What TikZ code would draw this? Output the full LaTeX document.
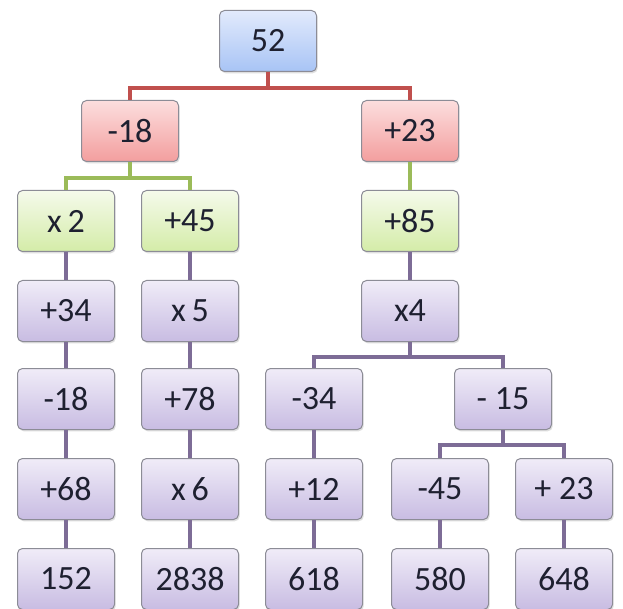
\documentclass[tikz,border=0pt]{standalone}
\usepackage{fontspec}
\setmainfont{Carlito}
\usetikzlibrary{shadows}
\definecolor{txt}{HTML}{1E2030}
\definecolor{bordc}{HTML}{8C8C96}
\definecolor{redl}{HTML}{C0504D}
\definecolor{greenl}{HTML}{9BBB59}
\definecolor{purpl}{HTML}{7D6C96}
\tikzset{
  box/.style={draw=bordc, line width=1pt, rounded corners=5pt, minimum width=97pt, minimum height=61pt,
    inner sep=0pt, text=txt, font=\fontsize{34}{40}\selectfont,
    drop shadow={opacity=0.25, shadow xshift=1.2pt, shadow yshift=-1.8pt}},
  pb/.style={box, top color={rgb,255:red,240;green,236;blue,248}, bottom color={rgb,255:red,200;green,188;blue,226}},
  gb/.style={box, top color={rgb,255:red,245;green,250;blue,235}, bottom color={rgb,255:red,212;green,236;blue,168}},
  rb/.style={box, top color={rgb,255:red,252;green,222;blue,222}, bottom color={rgb,255:red,243;green,158;blue,158}},
  bb/.style={box, top color={rgb,255:red,226;green,234;blue,252}, bottom color={rgb,255:red,168;green,196;blue,245}},
  conn/.style={line width=3.5pt},
}
\begin{document}
\begin{tikzpicture}[x=1pt,y=-1pt]
\fill[white] (0,0) rectangle (623,609);
\clip (0,0) rectangle (623,609);
\node[bb] (n52) at (268,41) {52};
\node[rb] (a1) at (130,131) {-18};
\node[rb] (b1) at (410,131) {+23};
\node[gb] (a2) at (66,221) {x\,2};
\node[gb] (c2) at (190,221) {+45};
\node[gb] (b2) at (410,221) {+85};
\node[pb] (a3) at (66,311) {+34};
\node[pb] (c3) at (190,311) {x\,5};
\node[pb] (b3) at (410,311) {x4};
\node[pb] (a4) at (66,399) {-18};
\node[pb] (c4) at (190,399) {+78};
\node[pb] (d4) at (314,399) {-34};
\node[pb] (e4) at (503,399) {- 15};
\node[pb] (a5) at (66,489) {+68};
\node[pb] (c5) at (190,489) {x\,6};
\node[pb] (d5) at (314,489) {+12};
\node[pb] (f5) at (440,489) {-45};
\node[pb] (g5) at (564,489) {+ 23};
\node[pb] (a6) at (66,579) {152};
\node[pb] (c6) at (190,579) {2838};
\node[pb] (d6) at (314,579) {618};
\node[pb] (f6) at (440,579) {580};
\node[pb] (g6) at (564,579) {648};
% connectors
\draw[conn, redl] (n52.south) -- ++(0,16) -| (a1.north);
\draw[conn, redl] (n52.south) -- ++(0,16) -| (b1.north);
\draw[conn, greenl] (a1.south) -- ++(0,16) -| (a2.north);
\draw[conn, greenl] (a1.south) -- ++(0,16) -| (c2.north);
\draw[conn, greenl] (b1.south) -- (b2.north);
\draw[conn, purpl] (a2.south) -- (a3.north);
\draw[conn, purpl] (a3.south) -- (a4.north);
\draw[conn, purpl] (a4.south) -- (a5.north);
\draw[conn, purpl] (a5.south) -- (a6.north);
\draw[conn, purpl] (c2.south) -- (c3.north);
\draw[conn, purpl] (c3.south) -- (c4.north);
\draw[conn, purpl] (c4.south) -- (c5.north);
\draw[conn, purpl] (c5.south) -- (c6.north);
\draw[conn, purpl] (b2.south) -- (b3.north);
\draw[conn, purpl] (b3.south) -- ++(0,15) -| (d4.north);
\draw[conn, purpl] (b3.south) -- ++(0,15) -| (e4.north);
\draw[conn, purpl] (d4.south) -- (d5.north);
\draw[conn, purpl] (d5.south) -- (d6.north);
\draw[conn, purpl] (e4.south) -- ++(0,15) -| (f5.north);
\draw[conn, purpl] (e4.south) -- ++(0,15) -| (g5.north);
\draw[conn, purpl] (f5.south) -- (f6.north);
\draw[conn, purpl] (g5.south) -- (g6.north);
\end{tikzpicture}
\end{document}
